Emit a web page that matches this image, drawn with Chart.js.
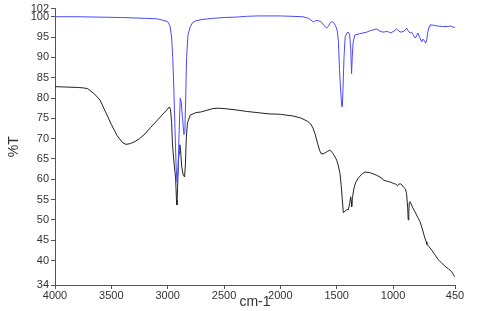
<!DOCTYPE html>
<html lang="en">
<head>
  <meta charset="UTF-8">
  <title>%T vs cm-1</title>
  <script src="https://cdn.jsdelivr.net/npm/chart.js"></script>
  <style>
    html, body { margin: 0; padding: 0; background: #fff; }
    #wrap { width: 480px; height: 311px; }
  </style>
</head>
<body>
  <div id="wrap"><canvas id="myChart"></canvas></div>

  <script>
    // espectro superior (azul)
    const blueX = [4000, 3800, 3600, 3400, 3200, 3100, 3050, 3000, 2980, 2965, 2955, 2945, 2935, 2925, 2917, 2908, 2898, 2888, 2880, 2868, 2856, 2848, 2840, 2832, 2820, 2800, 2780, 2750, 2700, 2600, 2500, 2400, 2300, 2200, 2100, 2000, 1900, 1800, 1750, 1720, 1705, 1690, 1670, 1640, 1610, 1590, 1575, 1555, 1540, 1525, 1510, 1495, 1485, 1475, 1465, 1455, 1450, 1443, 1435, 1425, 1410, 1397, 1385, 1375, 1368, 1362, 1355, 1340, 1300, 1234, 1200, 1145, 1120, 1089, 1050, 1020, 990, 968, 950, 930, 900, 879, 865, 849, 835, 820, 805, 795, 780, 765, 746, 735, 720, 710, 700, 692, 680, 672, 640, 600, 560, 520, 490, 460, 450];
    const blueY = [100.0, 100.0, 99.9, 99.8, 99.6, 99.5, 99.2, 98.8, 97.8, 95, 90, 82, 72, 63, 59.3, 62, 72, 80, 79, 75, 71, 71.5, 80, 90, 95.5, 97.5, 98.5, 99.0, 99.3, 99.6, 99.8, 99.9, 100.1, 100.2, 100.2, 100.2, 100.1, 100.0, 99.6, 99.0, 98.7, 99.0, 99.1, 98.8, 97.8, 97.2, 97.6, 98.6, 98.8, 98.5, 97.8, 96.5, 94, 87, 82, 78, 77.8, 83, 90, 95, 96, 96.2, 95.5, 92, 86, 90, 93.5, 95.5, 95.8, 96.2, 96.6, 97, 96.5, 96.2, 96.4, 96.0, 96.5, 97, 96.5, 96.2, 96.5, 97.2, 96.5, 96, 96.2, 95.5, 94.8, 95.0, 96, 95, 93.8, 94.5, 94.0, 93.5, 94.5, 96.2, 97.5, 98, 97.9, 97.7, 97.6, 97.6, 97.7, 97.4, 97.4];

    // espectro inferior (negro)
    const blackX = [4000, 3900, 3800, 3750, 3710, 3650, 3600, 3550, 3500, 3450, 3400, 3370, 3330, 3290, 3250, 3200, 3150, 3100, 3050, 3000, 2985, 2975, 2965, 2958, 2950, 2940, 2930, 2922, 2918, 2912, 2905, 2898, 2892, 2885, 2875, 2862, 2850, 2842, 2835, 2825, 2800, 2750, 2700, 2600, 2550, 2500, 2400, 2300, 2200, 2100, 2000, 1950, 1890, 1820, 1760, 1730, 1710, 1690, 1670, 1650, 1635, 1610, 1580, 1560, 1540, 1520, 1500, 1485, 1471, 1460, 1450, 1441, 1425, 1410, 1397, 1385, 1376, 1370, 1367, 1360, 1346, 1330, 1308, 1280, 1249, 1200, 1145, 1100, 1086, 1050, 1020, 998, 975, 960, 950, 935, 920, 905, 890, 880, 870, 865, 860, 856, 850, 840, 825, 805, 780, 761, 740, 720, 705, 700, 690, 680, 657, 630, 598, 570, 539, 510, 480, 465, 455, 450];
    const blackY = [82.8, 82.7, 82.6, 82.5, 82.3, 81.0, 79.5, 76.5, 73.5, 70.8, 69.0, 68.6, 68.8, 69.3, 70.0, 71.2, 72.8, 74.3, 75.8, 77.3, 77.8, 77.2, 74, 69, 66, 63, 60.5, 55, 53.7, 58, 64.5, 66.5, 68.5, 67, 63, 61, 60.6, 64, 70, 73.8, 75.8, 76.4, 76.6, 77.4, 77.5, 77.4, 77.1, 76.7, 76.4, 76.1, 76.0, 75.8, 75.6, 75.1, 74.3, 73.6, 72.6, 71, 68.9, 67, 66.2, 66.4, 66.9, 67.2, 66.6, 65.8, 64.7, 63.3, 61.5, 58.5, 55, 51.8, 52.2, 52.6, 52.5, 54, 55.7, 54.5, 53.3, 55.5, 57.9, 59.3, 60.3, 61.2, 61.8, 61.6, 61.0, 60.3, 59.8, 59.5, 59.3, 59.0, 58.8, 58.4, 58.8, 58.9, 58.6, 58.0, 57.6, 56.5, 53, 50.0, 52, 54.2, 54.5, 54, 53, 52, 50.6, 49.6, 47.8, 45.8, 44.6, 44.0, 43.8, 43.4, 42.6, 41.5, 40.2, 39.5, 38.6, 38.0, 37.3, 36.6, 36.1, 36.0];

    const xTicks = [4000, 3500, 3000, 2500, 2000, 1500, 1000, 450];
    const yTicks = [34, 40, 45, 50, 55, 60, 65, 70, 75, 80, 85, 90, 95, 100, 102];

    const toPoints = (xs, ys) => xs.map((x, i) => ({ x: x, y: ys[i] }));

    const axisColor = '#555';
    const textColor = '#333';

    const ctx = document.getElementById('myChart').getContext('2d');
    const myChart = new Chart(ctx, {
      type: 'line',
      data: {
        datasets: [{
          label: 'blue',
          data: toPoints(blueX, blueY),
          borderColor: '#4a4aff',
          borderWidth: 1,
          pointRadius: 0,
          tension: 0
        }, {
          label: 'black',
          data: toPoints(blackX, blackY),
          borderColor: '#222',
          borderWidth: 1,
          pointRadius: 0,
          tension: 0
        }]
      },
      options: {
        responsive: true,
        maintainAspectRatio: false,
        animation: false,
        layout: { padding: { top: 6, right: 25, left: 0, bottom: 0 } },
        plugins: {
          legend: { display: false },
          tooltip: { enabled: false }
        },
        scales: {
          x: {
            type: 'linear',
            reverse: true,
            min: 450,
            max: 4000,
            afterBuildTicks: scale => { scale.ticks = xTicks.map(v => ({ value: v })); },
            afterFit: scale => { scale.height = 26; },
            border: { color: axisColor, width: 1 },
            grid: { drawOnChartArea: false, color: axisColor, tickLength: 4 },
            ticks: {
              color: textColor,
              font: { family: 'Liberation Sans, Arial', size: 11 },
              padding: 0,
              maxRotation: 0,
              autoSkip: false,
              callback: v => String(v)
            },
            title: {
              display: true,
              text: 'cm-1',
              color: textColor,
              font: { family: 'Liberation Sans, Arial', size: 14 },
              padding: { top: 0, bottom: 0 }
            }
          },
          y: {
            min: 34,
            max: 102,
            afterBuildTicks: scale => { scale.ticks = yTicks.map(v => ({ value: v })); },
            afterFit: scale => { scale.width = 55; },
            border: { color: axisColor, width: 1 },
            grid: { drawOnChartArea: false, color: axisColor, tickLength: 4 },
            ticks: {
              color: textColor,
              font: { family: 'Liberation Sans, Arial', size: 11 },
              padding: 2,
              autoSkip: false,
              callback: v => String(v)
            },
            title: {
              display: true,
              text: '%T',
              color: textColor,
              font: { family: 'Liberation Sans, Arial', size: 14 },
              padding: { top: 6, bottom: 0 }
            }
          }
        }
      }
    });
  </script>
</body>
</html>
